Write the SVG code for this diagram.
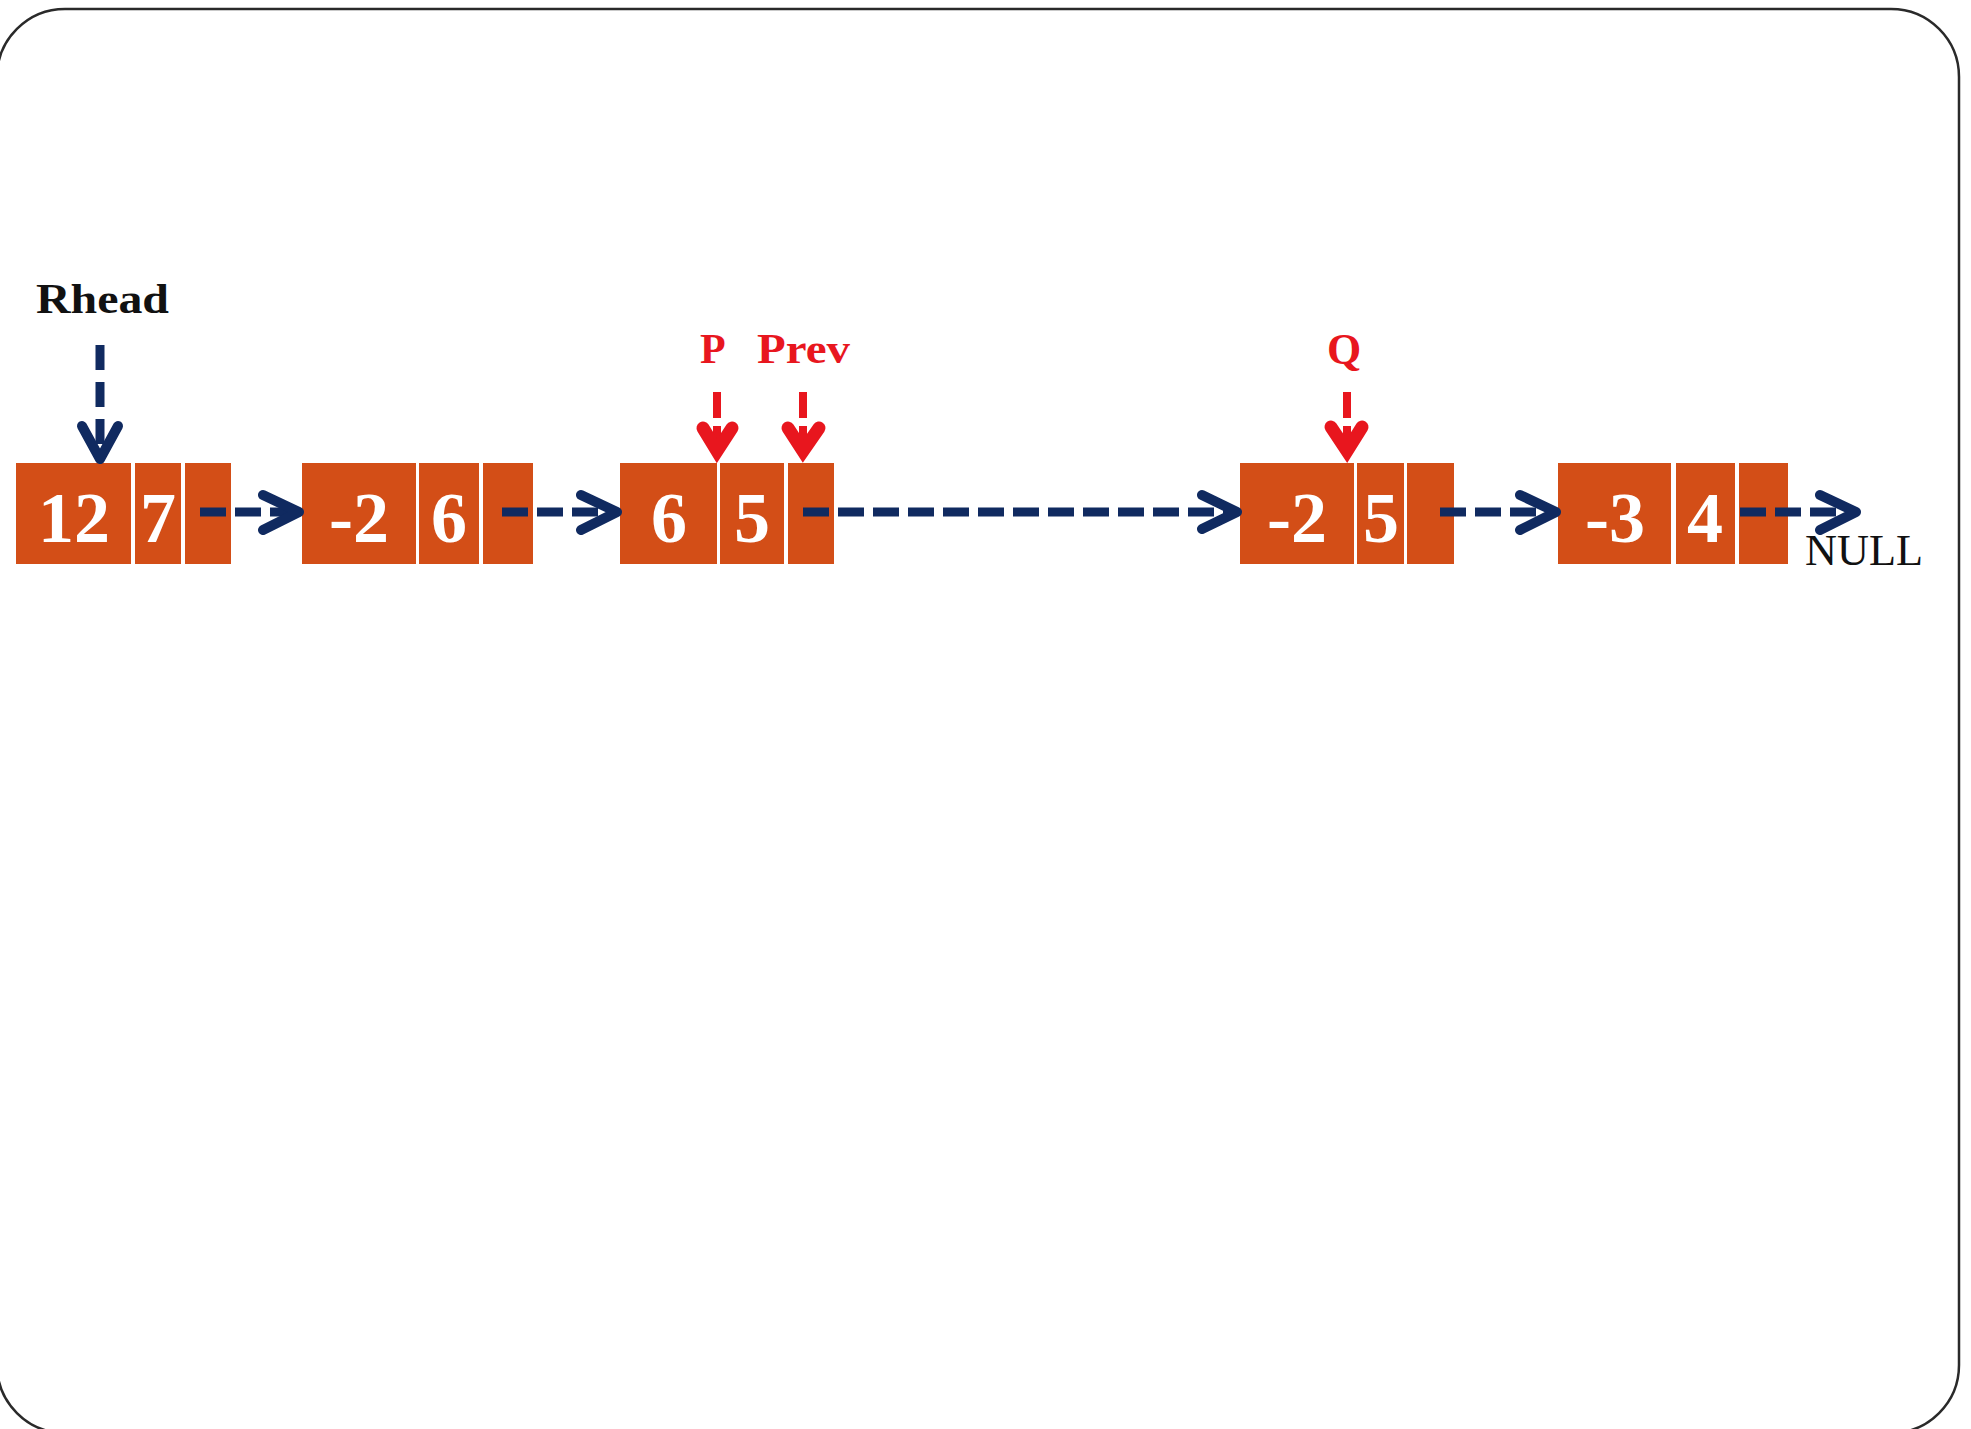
<svg xmlns="http://www.w3.org/2000/svg" width="1971" height="1429" viewBox="0 0 1971 1429">
<style>
.cell{fill:#D34E17}
.num{font-family:"Liberation Serif","Times New Roman",serif;font-weight:bold;font-size:72px;fill:#FFFFFF;text-anchor:middle}
.lbl{font-family:"Liberation Serif","Times New Roman",serif;font-weight:bold;font-size:42px}
.red{fill:#E8161E}
.blk{fill:#111111}
.dash{fill:none;stroke:#102A60;stroke-width:9;stroke-dasharray:26 9}
.chev{fill:none;stroke:#102A60;stroke-width:10;stroke-linecap:round;stroke-linejoin:round}
.rshaft{fill:none;stroke:#E8161E;stroke-width:8}
.rchev{fill:none;stroke:#E8161E;stroke-width:13;stroke-linecap:round;stroke-linejoin:miter}
</style>
<rect x="0" y="0" width="1971" height="1429" fill="#FFFFFF"/>
<rect id="frame" x="-3" y="9" width="1962" height="1424" rx="68" ry="68" fill="none" stroke="#2A2A2A" stroke-width="2.5"/>

<g id="n1">
<rect class="cell" x="16" y="463" width="115" height="101"/>
<rect class="cell" x="135" y="463" width="46" height="101"/>
<rect class="cell" x="185" y="463" width="46" height="101"/>
<text class="num" x="74" y="542">12</text>
<text class="num" x="158" y="542">7</text>
</g>
<g id="n2">
<rect class="cell" x="302" y="463" width="114" height="101"/>
<rect class="cell" x="419" y="463" width="60" height="101"/>
<rect class="cell" x="483" y="463" width="50" height="101"/>
<text class="num" x="359" y="542">-2</text>
<text class="num" x="449" y="542">6</text>
</g>
<g id="n3">
<rect class="cell" x="620" y="463" width="97" height="101"/>
<rect class="cell" x="720" y="463" width="64" height="101"/>
<rect class="cell" x="788" y="463" width="46" height="101"/>
<text class="num" x="669" y="542">6</text>
<text class="num" x="752" y="542">5</text>
</g>
<g id="n4">
<rect class="cell" x="1240" y="463" width="114" height="101"/>
<rect class="cell" x="1357" y="463" width="47" height="101"/>
<rect class="cell" x="1407" y="463" width="47" height="101"/>
<text class="num" x="1297" y="542">-2</text>
<text class="num" x="1381" y="542">5</text>
</g>
<g id="n5">
<rect class="cell" x="1558" y="463" width="113" height="101"/>
<rect class="cell" x="1676" y="463" width="59" height="101"/>
<rect class="cell" x="1739" y="463" width="49" height="101"/>
<text class="num" x="1615" y="542">-3</text>
<text class="num" x="1705" y="542">4</text>
</g>

<g id="labels">
<text id="rhead" class="lbl blk" x="36" y="313" textLength="133" lengthAdjust="spacingAndGlyphs">Rhead</text>
<text id="p" class="lbl red" x="700" y="363">P</text>
<text id="prev" class="lbl red" x="757" y="363" textLength="93" lengthAdjust="spacingAndGlyphs">Prev</text>
<text id="q" class="lbl red" x="1327" y="364" style="font-size:44px">Q</text>
<text id="null" x="1805" y="565" font-family="Liberation Serif, Times New Roman, serif" font-size="44" fill="#111111" textLength="118" lengthAdjust="spacingAndGlyphs">NULL</text>
</g>

<g id="connectors">
<line class="dash" x1="100" y1="345" x2="100" y2="452" style="stroke-dasharray:25 12"/>
<polyline class="chev" points="82,426 100,459 118,426"/>
<line class="rshaft" x1="717" y1="392" x2="717" y2="418"/>
<line class="rshaft" x1="717" y1="426" x2="717" y2="450"/>
<polyline class="rchev" points="703,428 717,451 732,428"/>
<line class="rshaft" x1="803" y1="392" x2="803" y2="418"/>
<line class="rshaft" x1="803" y1="426" x2="803" y2="450"/>
<polyline class="rchev" points="788,428 803,451 819,428"/>
<line class="rshaft" x1="1347" y1="392" x2="1347" y2="418"/>
<line class="rshaft" x1="1347" y1="426" x2="1347" y2="450"/>
<polyline class="rchev" points="1331,427 1347,451 1362,427"/>
<line class="dash" x1="200" y1="512" x2="292" y2="512"/>
<polyline class="chev" points="263,495 299,512 263,530"/>
<line class="dash" x1="502" y1="512" x2="610" y2="512"/>
<polyline class="chev" points="581,495 617,512 581,530"/>
<line class="dash" x1="803" y1="512" x2="1230" y2="512"/>
<polyline class="chev" points="1202,495 1237,512 1202,529"/>
<line class="dash" x1="1440" y1="512" x2="1549" y2="512"/>
<polyline class="chev" points="1520,495 1556,512 1520,530"/>
<line class="dash" x1="1740" y1="512" x2="1849" y2="512"/>
<polyline class="chev" points="1820,495 1856,512 1820,530"/>
</g>
</svg>
